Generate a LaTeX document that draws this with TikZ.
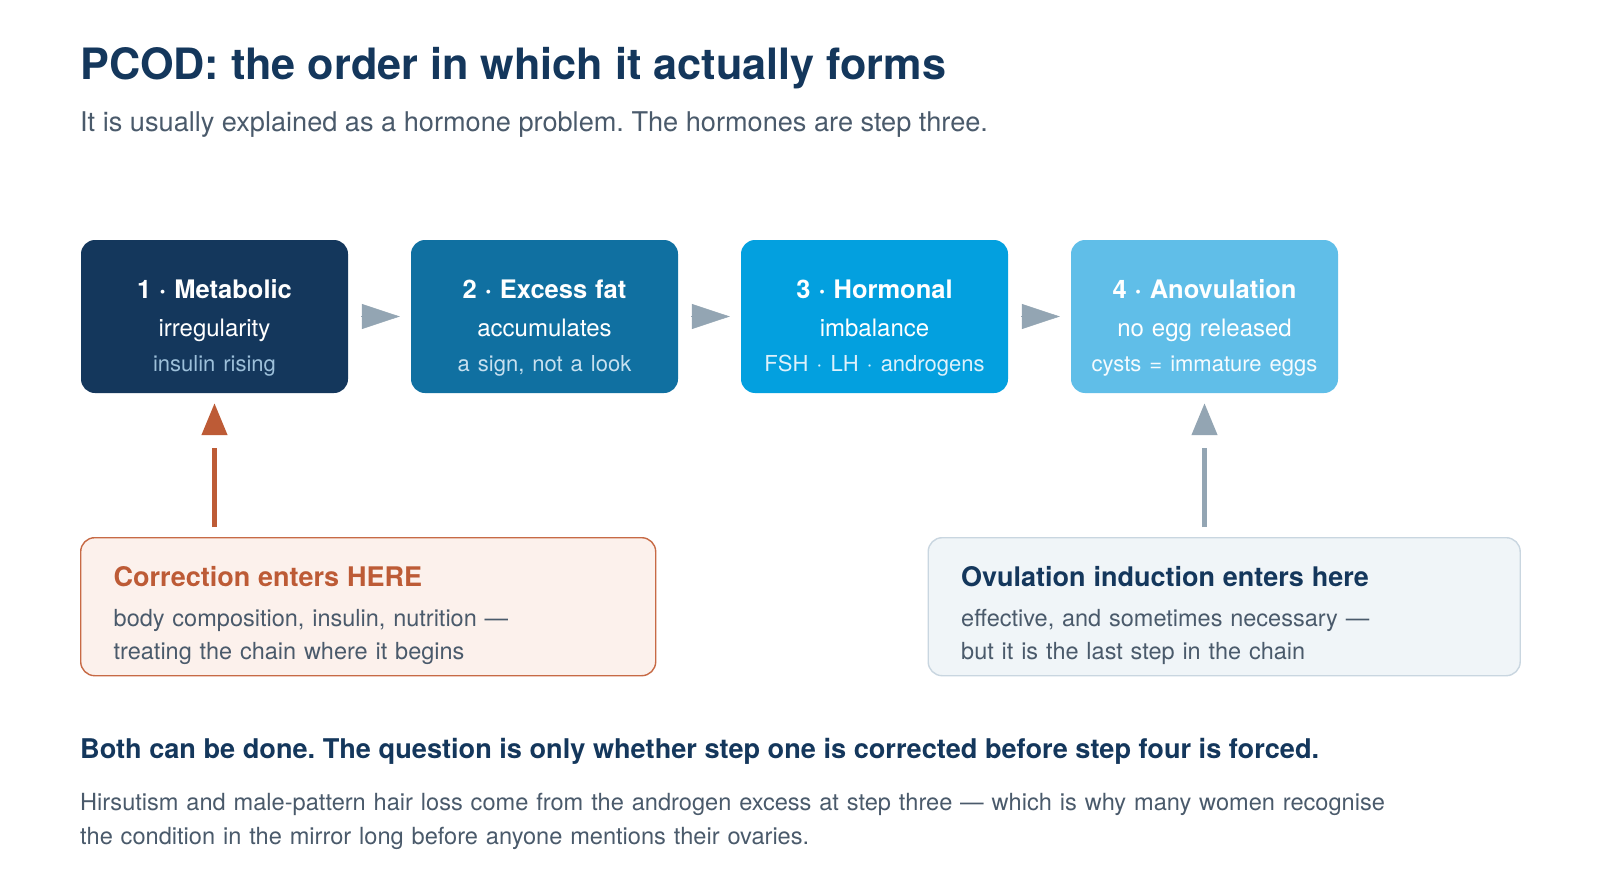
\documentclass[tikz,border=0pt]{standalone}
\usepackage{fontspec}
\setmainfont{TeX Gyre Heros}
\usepackage{xcolor}
\usetikzlibrary{arrows.meta}
\frenchspacing

\definecolor{navy}{HTML}{14375C}
\definecolor{stepA}{HTML}{14375C}
\definecolor{stepB}{HTML}{1070A1}
\definecolor{stepC}{HTML}{03A0DF}
\definecolor{stepD}{HTML}{60BEE8}
\definecolor{subA}{HTML}{9DC0DA}
\definecolor{subB}{HTML}{C7E0EF}
\definecolor{subC}{HTML}{DDF1FB}
\definecolor{subD}{HTML}{F5FBFE}
\definecolor{arrowgray}{HTML}{93A5B3}
\definecolor{rust}{HTML}{BD5B36}
\definecolor{rustline}{HTML}{C76A45}
\definecolor{rustfill}{HTML}{FCF1EC}
\definecolor{mistfill}{HTML}{F0F5F8}
\definecolor{mistline}{HTML}{C9D6E0}
\definecolor{slate}{HTML}{4A5A6B}

\newcommand{\setfs}[2]{\fontsize{#1}{#2}\selectfont}

\begin{document}
\begin{tikzpicture}[x=1pt,y=-1pt,
    plain/.style={anchor=base west, inner sep=0pt},
    stepbox/.style={shape=rectangle, rounded corners=14pt, minimum width=267pt, minimum height=153pt,
      inner sep=0pt, text width=260pt, align=center, text height=41pt, text depth=77pt,
      text=white, font=\setfs{24}{35.5}},
    callout/.style={shape=rectangle, rounded corners=14pt, line width=1.4pt, anchor=north west,
      minimum height=138pt, inner xsep=33pt, inner ysep=0pt, align=left,
      text height=20pt, text depth=60pt, text=slate, font=\setfs{23.5}{33}},
    flow/.style={arrowgray, line width=0.5pt, shorten <=13pt, shorten >=11pt,
      -{Triangle[length=38pt,width=25pt]}},
    entry/.style={line width=4.5pt, shorten <=10pt, shorten >=10pt, dash pattern=on 79pt off 200pt,
      -{Triangle[length=32pt,width=25pt]}}]
    \useasboundingbox[fill=white] (0,0) rectangle (1600,896);

    \node[plain, text=navy, font=\bfseries\setfs{43.2}{50}] (title) at (80,80) {PCOD: the order in which it actually forms};
    \node[plain, text=slate, font=\setfs{27.15}{32}] (subtitle) at (80,132) {It is usually explained as a hormone problem. The hormones are step three.};

    % the chain
    \node[stepbox, fill=stepA] (s1) at (214.5,316.5) {{\bfseries\setfs{25.5}{35.5}1 · Metabolic}\\[2pt] irregularity\\ {\color{subA}\setfs{22}{35.5}insulin rising}};
    \node[stepbox, fill=stepB] (s2) at (544.5,316.5) {{\bfseries\setfs{25.5}{35.5}2 · Excess fat}\\[2pt] accumulates\\ {\color{subB}\setfs{22}{35.5}a sign, not a look}};
    \node[stepbox, fill=stepC] (s3) at (874.5,316.5) {{\bfseries\setfs{25.5}{35.5}3 · Hormonal}\\[2pt] imbalance\\ {\color{subC}\setfs{22}{35.5}FSH · LH · androgens}};
    \node[stepbox, fill=stepD] (s4) at (1204.5,316.5) {{\bfseries\setfs{25.5}{35.5}4 · Anovulation}\\[2pt] no egg released\\ {\color{subD}\setfs{22}{35.5}cysts = immature eggs}};

    \draw[flow] (s1) -- (s2);
    \draw[flow] (s2) -- (s3);
    \draw[flow] (s3) -- (s4);

    % where each treatment comes in
    \node[callout, draw=rustline, fill=rustfill, minimum width=575pt, text width=509pt] (c1) at (80,537)
      {{\bfseries\setfs{27}{33}\textcolor{rust}{Correction enters HERE}}\\[7pt] body composition, insulin, nutrition —\\ treating the chain where it begins};
    \node[callout, draw=mistline, fill=mistfill, minimum width=592pt, text width=526pt] (c2) at (927.5,537)
      {{\bfseries\setfs{27}{33}\textcolor{navy}{Ovulation induction enters here}}\\[7pt] effective, and sometimes necessary —\\ but it is the last step in the chain};

    \draw[entry, rust] (s1 |- c1.north) -- (s1.south);
    \draw[entry, arrowgray] (s4 |- c2.north) -- (s4.south);

    \node[plain, text=navy, font=\bfseries\setfs{27.15}{32}] (verdict) at (80,758) {Both can be done. The question is only whether step one is corrected before step four is forced.};
    \node[plain, text=slate, font=\setfs{23.6}{34.5}, text width=1400pt, align=left] (note) at (80,810)
      {Hirsutism and male-pattern hair loss come from the androgen excess at step three — which is why many women recognise\\ the condition in the mirror long before anyone mentions their ovaries.};
\end{tikzpicture}
\end{document}
